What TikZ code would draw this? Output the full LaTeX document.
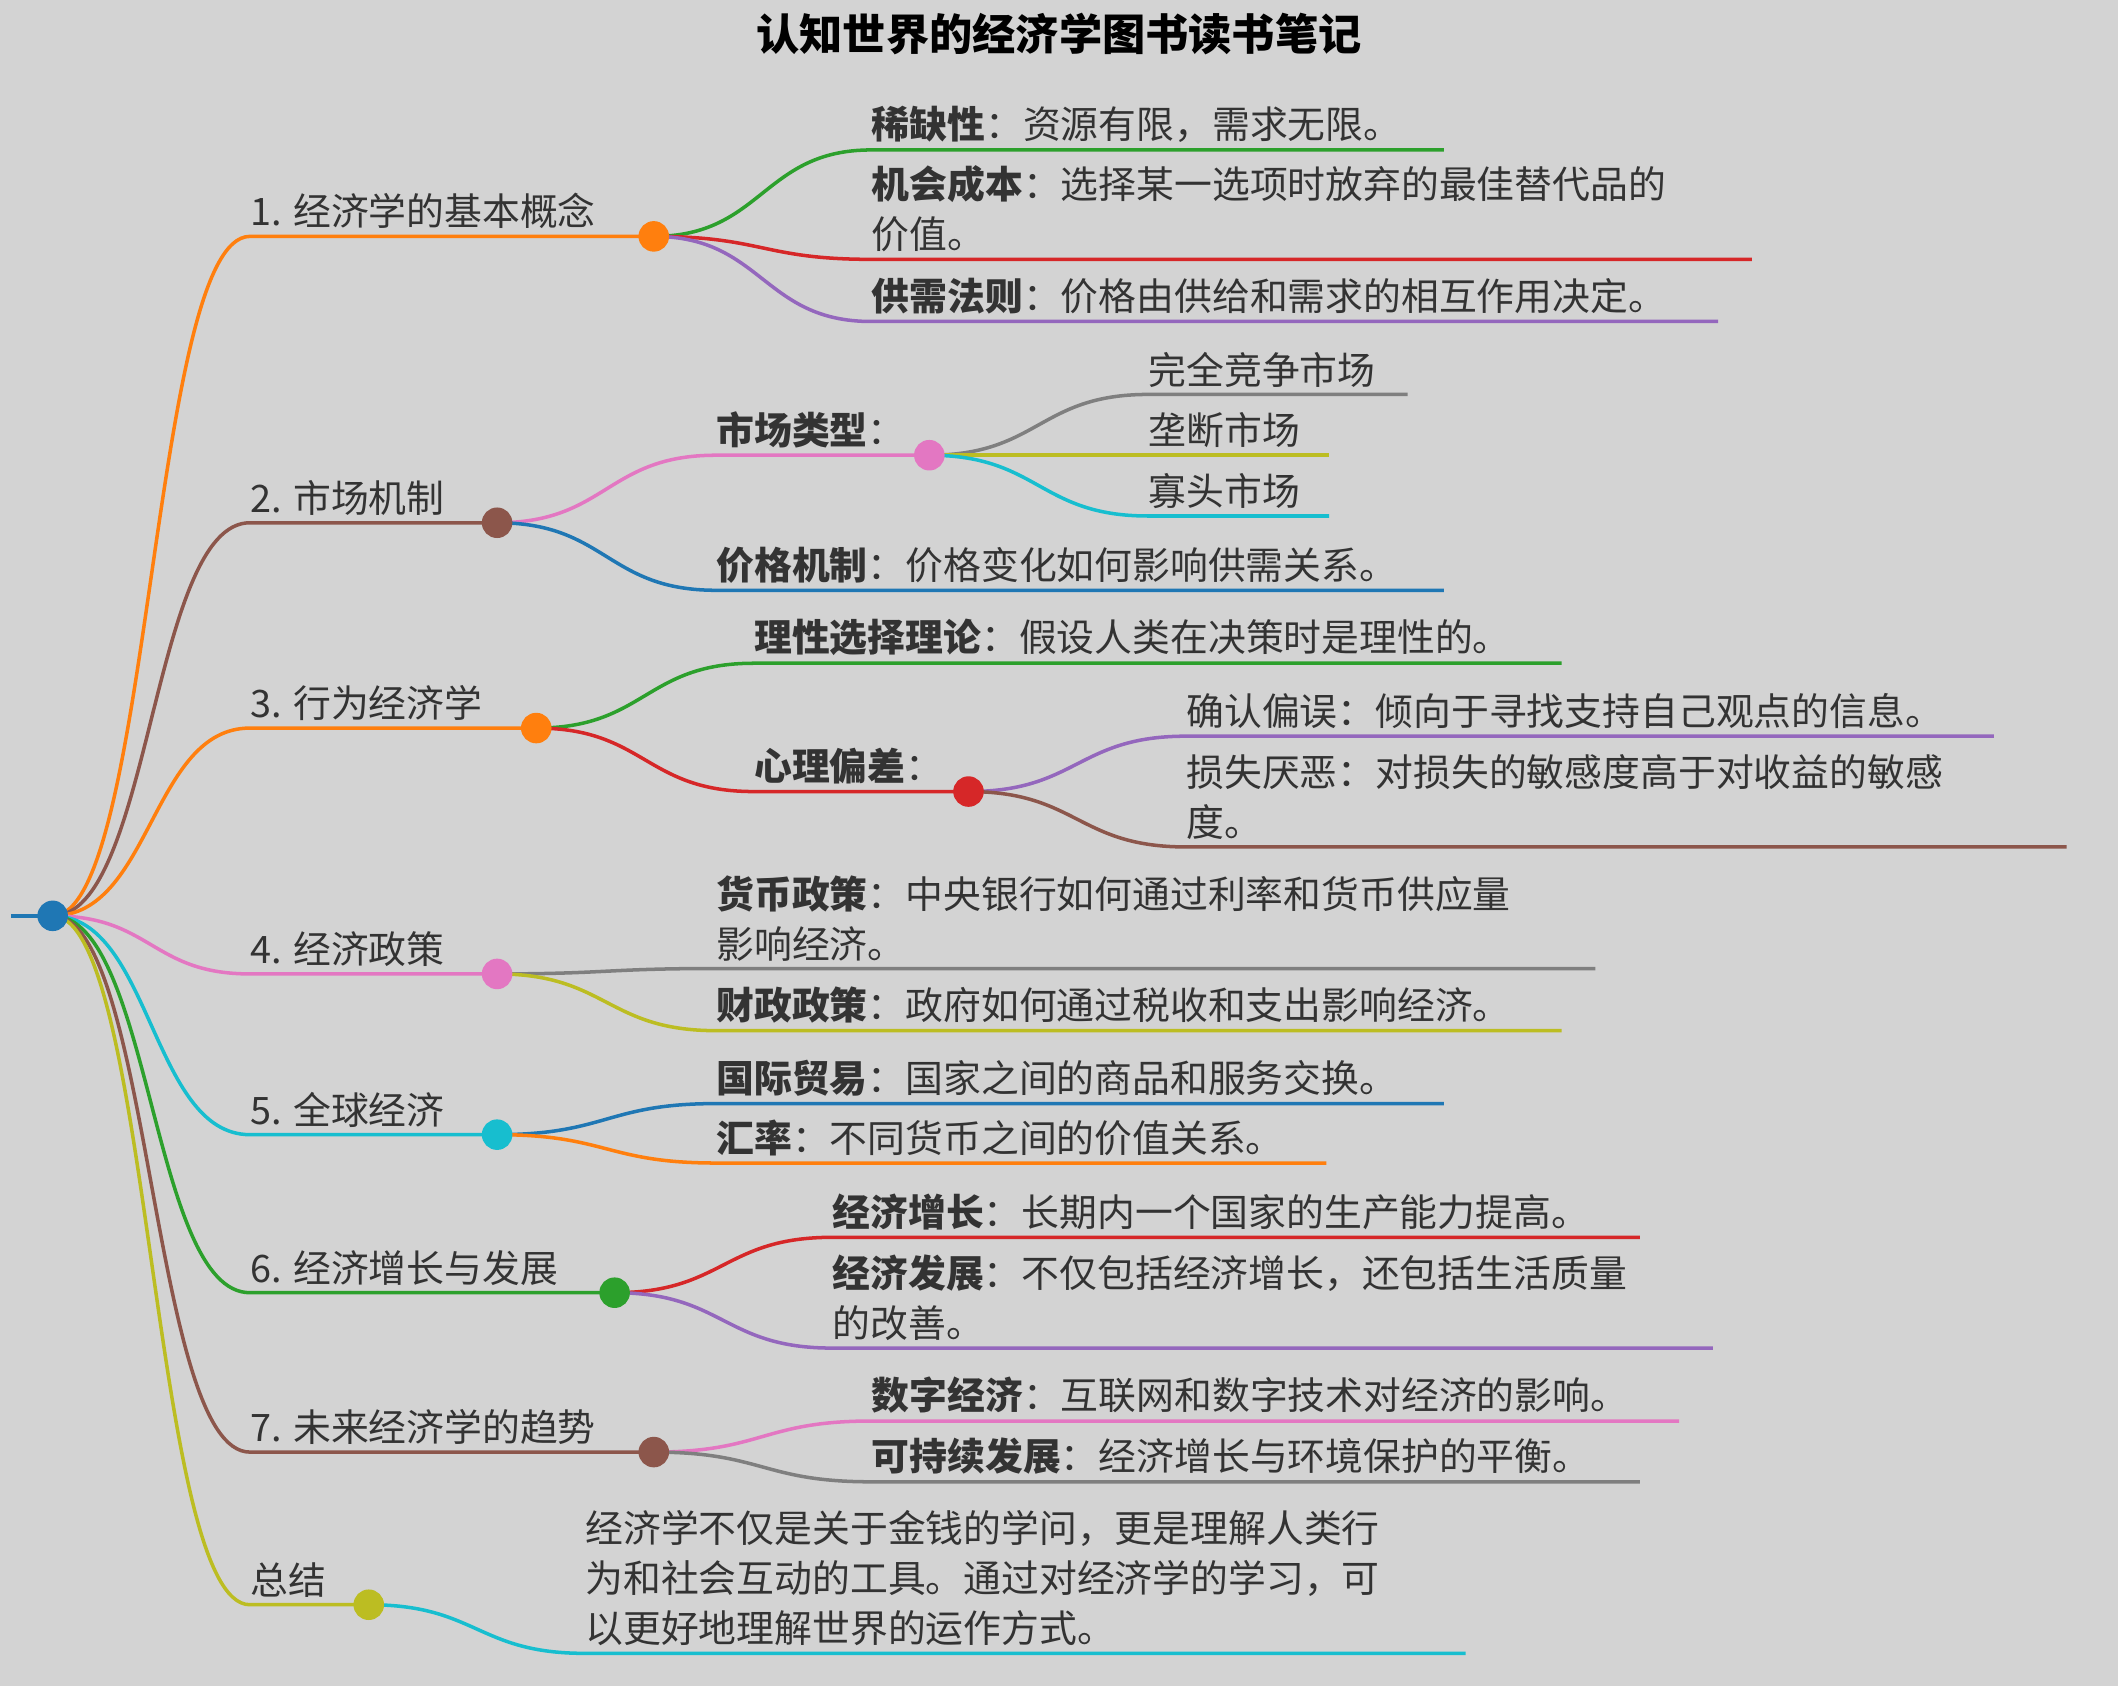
\documentclass[tikz,border=0pt]{standalone}
\usepackage{fontspec}
\setmainfont{Noto Sans CJK SC}
\usetikzlibrary{calc}
\definecolor{cO}{HTML}{FF7F0E}\definecolor{cBr}{HTML}{8C564B}\definecolor{cP}{HTML}{E377C2}
\definecolor{cG}{HTML}{7F7F7F}\definecolor{cOl}{HTML}{BCBD22}\definecolor{cC}{HTML}{17BECF}
\definecolor{cB}{HTML}{1F77B4}\definecolor{cGr}{HTML}{2CA02C}\definecolor{cR}{HTML}{D62728}
\definecolor{cPu}{HTML}{9467BD}\definecolor{bg}{HTML}{D3D3D3}\definecolor{tx}{HTML}{333333}
\tikzset{edge/.style={line width=1.3pt},
 dot/.style={circle,draw,fill=white,line width=1.3pt,minimum size=10pt,inner sep=0pt},
 lbl/.style={anchor=south west,inner sep=1.5pt,text=tx,align=left,font=\fontsize{14pt}{18.5pt}\selectfont}}
% name,color,px,py,x1,y,x2,text
\newcommand\lf[8]{%
 \pgfmathsetmacro\cx{(#3+#5)/2}
 \coordinate (#1s) at (#5,#6); \coordinate (#1e) at (#7,#6);
 \draw[edge,#2] (#3,#4) .. controls (\cx,#4) and (\cx,#6) .. (#1s) -- (#1e);
 \node[lbl] (#1t) at ($(#1s)+(-3,-2)$) {#8};}
\begin{document}
\begin{tikzpicture}[x=0.5pt,y=-0.5pt]
\fill[bg] (0,0) rectangle (1568,1248);
\useasboundingbox (0,0) rectangle (1568,1248);
\node[text=black,font=\bfseries\fontsize{16pt}{18pt}\selectfont] (title) at (784,25) {认知世界的经济学图书读书笔记};
\coordinate (root) at (39,678);
\coordinate (rin) at (8,678);
\draw[edge,cB] (rin) -- (root);
% branches
\lf{b1}{cO}{39}{678}{185}{175}{484}{1. 经济学的基本概念}
\lf{b2}{cBr}{39}{678}{185}{387}{368}{2. 市场机制}
\lf{b3}{cO}{39}{678}{185}{539}{397}{3. 行为经济学}
\lf{b4}{cP}{39}{678}{185}{721}{368}{4. 经济政策}
\lf{b5}{cC}{39}{678}{185}{840}{368}{5. 全球经济}
\lf{b6}{cGr}{39}{678}{185}{957}{455}{6. 经济增长与发展}
\lf{b7}{cBr}{39}{678}{185}{1075}{484}{7. 未来经济学的趋势}
\lf{b8}{cOl}{39}{678}{185}{1188}{273}{总结}
% leaves
\lf{l11}{cGr}{484}{175}{645}{111}{1069}{\textbf{稀缺性}：资源有限，需求无限。}
\lf{l12}{cR}{484}{175}{645}{192}{1297}{\textbf{机会成本}：选择某一选项时放弃的最佳替代品的\\价值。}
\lf{l13}{cPu}{484}{175}{645}{238}{1272}{\textbf{供需法则}：价格由供给和需求的相互作用决定。}
\lf{l21}{cP}{368}{387}{530}{337}{688}{\textbf{市场类型}：}
\lf{l211}{cG}{688}{337}{850}{292}{1042}{完全竞争市场}
\lf{l212}{cOl}{688}{337}{850}{337}{984}{垄断市场}
\lf{l213}{cC}{688}{337}{850}{382}{984}{寡头市场}
\lf{l22}{cB}{368}{387}{530}{437}{1069}{\textbf{价格机制}：价格变化如何影响供需关系。}
\lf{l31}{cGr}{397}{539}{558}{491}{1156}{\textbf{理性选择理论}：假设人类在决策时是理性的。}
\lf{l32}{cR}{397}{539}{558}{586}{717}{\textbf{心理偏差}：}
\lf{l321}{cPu}{717}{586}{878}{545}{1476}{确认偏误：倾向于寻找支持自己观点的信息。}
\lf{l322}{cBr}{717}{586}{878}{627}{1530}{损失厌恶：对损失的敏感度高于对收益的敏感\\度。}
\lf{l41}{cG}{368}{721}{530}{717}{1181}{\textbf{货币政策}：中央银行如何通过利率和货币供应量\\影响经济。}
\lf{l42}{cOl}{368}{721}{530}{763}{1156}{\textbf{财政政策}：政府如何通过税收和支出影响经济。}
\lf{l51}{cB}{368}{840}{530}{817}{1069}{\textbf{国际贸易}：国家之间的商品和服务交换。}
\lf{l52}{cO}{368}{840}{530}{861}{982}{\textbf{汇率}：不同货币之间的价值关系。}
\lf{l61}{cR}{455}{957}{616}{916}{1214}{\textbf{经济增长}：长期内一个国家的生产能力提高。}
\lf{l62}{cPu}{455}{957}{616}{998}{1268}{\textbf{经济发展}：不仅包括经济增长，还包括生活质量\\的改善。}
\lf{l71}{cP}{484}{1075}{645}{1052}{1243}{\textbf{数字经济}：互联网和数字技术对经济的影响。}
\lf{l72}{cG}{484}{1075}{645}{1097}{1214}{\textbf{可持续发展}：经济增长与环境保护的平衡。}
\lf{l81}{cC}{273}{1188}{433}{1224}{1085}{经济学不仅是关于金钱的学问，更是理解人类行\\为和社会互动的工具。通过对经济学的学习，可\\以更好地理解世界的运作方式。}
% dots
\node[dot,cB] (d0) at (root) {};
\node[dot,cO] (d1) at (b1e) {};
\node[dot,cBr] (d2) at (b2e) {};
\node[dot,cO] (d3) at (b3e) {};
\node[dot,cP] (d4) at (b4e) {};
\node[dot,cC] (d5) at (b5e) {};
\node[dot,cGr] (d6) at (b6e) {};
\node[dot,cBr] (d7) at (b7e) {};
\node[dot,cOl] (d8) at (b8e) {};
\node[dot,cP] (d21) at (l21e) {};
\node[dot,cR] (d32) at (l32e) {};
\end{tikzpicture}
\end{document}
